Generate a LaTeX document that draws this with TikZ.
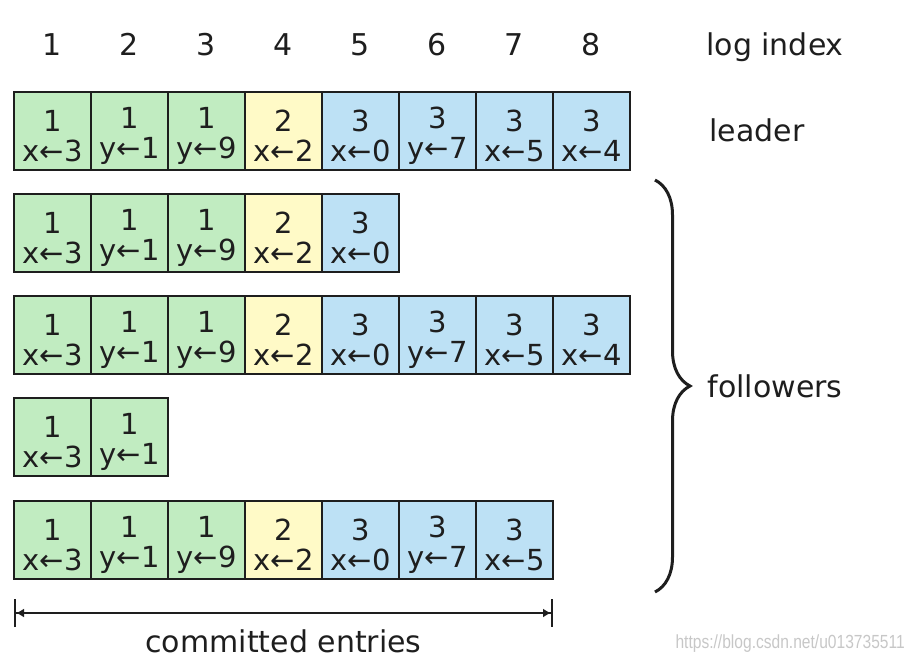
\documentclass[tikz,border=0pt]{standalone}
\usepackage{fontspec}
\setmainfont{DejaVu Sans}
\newfontfamily\wmfont{Liberation Sans}[FakeStretch=0.82]
\usetikzlibrary{decorations.pathreplacing,arrows.meta}
\definecolor{cgreen}{RGB}{193,236,193}
\definecolor{cyellow}{RGB}{255,250,199}
\definecolor{cblue}{RGB}{189,225,245}
\definecolor{ink}{RGB}{30,30,30}
\begin{document}
\begin{tikzpicture}[x=1pt,y=-1pt,
  font=\fontsize{30}{34}\selectfont,
  cell/.style={draw=ink, line width=2.6pt, minimum width=77pt, minimum height=78pt,
    inner sep=0pt, align=center, text=ink, font=\fontsize{29}{30}\selectfont},
  lbl/.style={inner sep=0pt, text=ink, anchor=base}]
\useasboundingbox (0,0) rectangle (908,664);
% log cells
\foreach \i/\t/\c/\col in {1/1/x←3/cgreen, 2/1/y←1/cgreen, 3/1/y←9/cgreen, 4/2/x←2/cyellow,
    5/3/x←0/cblue, 6/3/y←7/cblue, 7/3/x←5/cblue, 8/3/x←4/cblue}{
  \node[lbl] (i\i) at ({52.5+77*(\i-1)},55) {\i};
  \foreach \r/\y/\n in {1/131/8, 2/233/5, 3/335/8, 4/437/2, 5/540/7}{
    \ifnum\i>\n\else
      \node[cell, fill=\col] (c\r-\i) at ({52.5+77*(\i-1)},\y) {\rule{0pt}{31pt}\t\\\c};
    \fi
  }
}
\node[lbl] (logidx) at (775,55) {log index};
\node[lbl] (leader) at (757,141) {leader};
\node[lbl] (follow) at (775,397) {followers};
% brace
\coordinate (bt) at (655,180);
\coordinate (bb) at (655,592);
\draw[ink, line width=3pt, decorate, decoration={brace, amplitude=35pt}] (bt) -- (bb);
% committed arrow
\coordinate (al) at (14,613);
\coordinate (ar) at (553,613);
\draw[ink, line width=2pt,
  {Bar[width=28pt]Latex[length=8pt,width=9pt]}-{Latex[length=8pt,width=9pt]Bar[width=28pt]}]
  (al) -- (ar);
\node[lbl] (comm) at (283.5,652) {committed entries};
% watermark
\node[anchor=base east, inner sep=0pt, text=black!22, font=\fontsize{19}{19}\wmfont] (wm) at (905,648) {https://blog.csdn.net/u013735511};
\end{tikzpicture}
\end{document}
